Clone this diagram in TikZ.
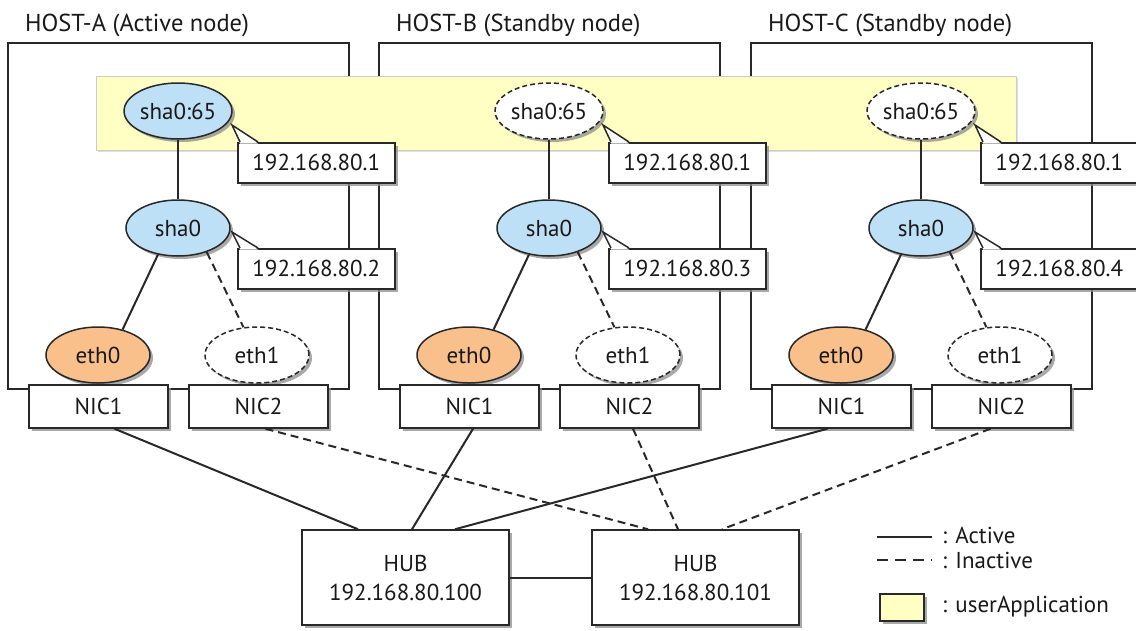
\documentclass[tikz,border=0pt]{standalone}
\usepackage{fontspec}
\setmainfont{PT Sans}
\usetikzlibrary{shapes.geometric,shadows}
\definecolor{lblue}{RGB}{190,224,246}
\definecolor{lorange}{RGB}{250,192,140}
\definecolor{lyellow}{RGB}{255,255,196}
\definecolor{ink}{RGB}{40,40,40}
\definecolor{txt}{RGB}{25,25,25}
\tikzset{
  shad/.style={drop shadow={shadow xshift=3pt,shadow yshift=-3pt,fill=black!45,opacity=0.75}},
  hostbox/.style={draw=ink,line width=1.5pt,rectangle,inner sep=0pt},
  ifell/.style={ellipse,draw=ink,line width=1.5pt,minimum width=104pt,minimum height=56pt,inner sep=0pt,shad},
  actblue/.style={ifell,fill=lblue},
  actorange/.style={ifell,fill=lorange},
  inact/.style={ifell,fill=white,dash pattern=on 5pt off 3pt},
  nicbox/.style={rectangle,draw=ink,line width=1.5pt,fill=white,minimum width=139pt,minimum height=43pt,inner sep=0pt,shad},
  callbox/.style={rectangle,draw=ink,line width=1.5pt,fill=white,minimum width=157pt,minimum height=40pt,inner sep=0pt,shad},
  hubbox/.style={rectangle,draw=ink,line width=1.5pt,fill=white,minimum width=207pt,minimum height=95pt,inner sep=0pt,align=center,shad,font=\fontsize{23}{29}\selectfont},
  band/.style={rectangle,draw=black!20,line width=0.8pt,fill=lyellow,inner sep=0pt,drop shadow={shadow xshift=2pt,shadow yshift=-2pt,fill=black!25}},
  act/.style={draw=ink,line width=2pt},
  inactl/.style={draw=ink,line width=2pt,dash pattern=on 8pt off 5pt},
  wedge/.style={draw=ink,line width=1.5pt,line join=miter},
  titletext/.style={anchor=base west,inner sep=0pt,font=\fontsize{24.5}{28}\selectfont},
}
\begin{document}
\begin{tikzpicture}[x=1pt,y=-1pt,every node/.style={font=\fontsize{23}{27}\selectfont,text=txt}]
\useasboundingbox (0,0) rectangle (1136,630);

% host frames and titles
\foreach \h/\o/\lab in {a/0/HOST-A (Active node),b/371/HOST-B (Standby node),c/743/HOST-C (Standby node)}{
  \node[hostbox,minimum width=341pt,minimum height=346pt,anchor=north west] (host\h) at (7+\o,42) {};
  \node[titletext] (title\h) at (25+\o,31) {\lab};
}

% userApplication band
\node[band,minimum width=920pt,minimum height=74pt,anchor=north west] (app) at (96,76) {};

% virtual interfaces
\node[actblue] (vipa) at (178,111) {sha0:65};
\node[inact] (vipb) at (549,111) {sha0:65};
\node[inact] (vipc) at (921,111) {sha0:65};

\foreach \h/\o/\ip in {a/0/2,b/371/3,c/743/4}{
  \node[actblue] (sha\h) at (178+\o,228) {sha0};
  \node[actorange] (etha\h) at (98+\o,355) {eth0};
  \node[inact] (ethb\h) at (257+\o,355) {eth1};
  \node[nicbox] (nica\h) at (98.5+\o,406.5) {NIC1};
  \node[nicbox] (nicb\h) at (258.5+\o,406.5) {NIC2};
  % callouts
  \node[callbox,anchor=north west] (cv\h) at (237+\o,142) {192.168.80.1};
  \node[callbox,anchor=north west] (cp\h) at (237+\o,248) {192.168.80.\ip};
  \coordinate (av\h) at (232+\o,125);
  \coordinate (ap\h) at (232+\o,232);
  \fill[white] ([xshift=3pt,yshift=-1.5pt]cv\h.north west) -- (av\h) -- ([xshift=21pt,yshift=-1.5pt]cv\h.north west) -- cycle;
  \draw[wedge] ([xshift=3pt]cv\h.north west) -- (av\h) -- ([xshift=21pt]cv\h.north west);
  \fill[white] ([xshift=3pt,yshift=-1.5pt]cp\h.north west) -- (ap\h) -- ([xshift=21pt,yshift=-1.5pt]cp\h.north west) -- cycle;
  \draw[wedge] ([xshift=3pt]cp\h.north west) -- (ap\h) -- ([xshift=21pt]cp\h.north west);
  % links inside host
  \draw[act] (vip\h) -- (sha\h);
  \draw[act] (sha\h.-127) -- (etha\h.46);
  \draw[inactl] (sha\h.-40) -- (ethb\h.116);
}

% hubs
\node[hubbox] (hub1) at (405.5,577.5) {HUB\\192.168.80.100};
\node[hubbox] (hub2) at (695.5,577.5) {HUB\\192.168.80.101};
\draw[act] (hub1.east) -- (hub2.west);

\draw[act] ([xshift=16pt]nicaa.south) -- ([xshift=-47.5pt]hub1.north);
\draw[act] ([xshift=3.5pt]nicab.south) -- ([xshift=6.5pt]hub1.north);
\draw[act] ([xshift=-14pt]nicac.south) -- ([xshift=49.5pt]hub1.north);
\draw[inactl] ([xshift=7pt]nicba.south) -- ([xshift=-47.5pt]hub2.north);
\draw[inactl] ([xshift=3.5pt]nicbb.south) -- ([xshift=-17.5pt]hub2.north);
\draw[inactl] ([xshift=-11pt]nicbc.south) -- ([xshift=26.5pt]hub2.north);

% legend
\coordinate (la1) at (877,537);
\coordinate (la2) at (932,537);
\draw[act,line width=2.5pt] (la1) -- (la2);
\node[anchor=base west,inner sep=0pt] (lt1) at (942,543) {: Active};
\coordinate (lb1) at (877,560);
\coordinate (lb2) at (932,560);
\draw[act,line width=2.5pt,dash pattern=on 11pt off 7pt] (lb1) -- (lb2);
\node[anchor=base west,inner sep=0pt] (lt2) at (942,568) {: Inactive};
\node[rectangle,draw=ink,line width=1.5pt,fill=lyellow,minimum width=44pt,minimum height=27pt,inner sep=0pt,shad] (lbox) at (902,607.5) {};
\node[anchor=base west,inner sep=0pt] (lt3) at (942,612) {: userApplication};
\end{tikzpicture}
\end{document}
